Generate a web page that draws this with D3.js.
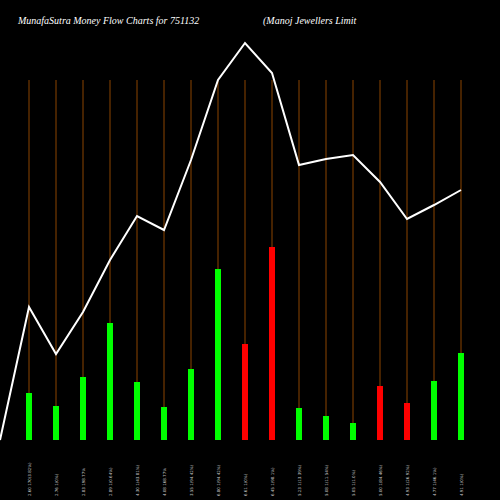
<!DOCTYPE html>
<html><head><meta charset="utf-8">
<script src="https://cdn.jsdelivr.net/npm/d3@7"></script>
<style>body{margin:0;background:#000}</style>
</head><body>
<script>
var labels = ["2.60 170(3.82%)","2.76 1(0%)","2.83 198.77%","2.89 1(0.64%)","4.30 1(43.81%)","4.08 168.77%","3.55 1(94.42%)","6.80 1(94.42%)","6.61 1(0%)","6.45 1(98.1%)","5.23 1(13.39%)","5.08 1(11.54%)","5.05 1(1.0%)","5.00 1(84.46%)","4.93 1(26.92%)","4.77 1(46.1%)","4.91 1(0%)"];
var volume = [47, 34, 63, 117, 58, 33, 71, 171, 96, 193, 32, 24, 17, 54, 37, 59, 87];
var isUp = [1,1,1,1,1,1,1,1,0,0,1,1,1,0,0,1,1];
var price = [133, 86, 128, 180, 224, 210, 280, 360, 397, 367, 275, 281, 285, 258, 221, 235, 250];

var svg = d3.select("body").append("svg").attr("width",500).attr("height",500).style("background","#000");
var x = d3.scalePoint().domain(d3.range(labels.length)).range([29,461]);
var y = d3.scaleLinear().domain([0,400]).range([440,40]);

svg.append("text").attr("x",18).attr("y",24).attr("fill","#fff")
  .style("font","italic 10px 'Liberation Serif', serif").text("MunafaSutra  Money Flow  Charts for 751132");
svg.append("text").attr("x",263).attr("y",24).attr("fill","#fff")
  .style("font","italic 10px 'Liberation Serif', serif").text("(Manoj Jewellers Limit");

svg.selectAll("line.grid").data(labels).enter().append("line").attr("class","grid")
  .attr("x1",function(d,i){return x(i);}).attr("x2",function(d,i){return x(i);})
  .attr("y1",80).attr("y2",440).attr("stroke","#8b4500").attr("stroke-width",1);

svg.selectAll("rect").data(volume).enter().append("rect")
  .attr("x",function(d,i){return x(i)-3;}).attr("width",6)
  .attr("y",function(d){return y(d);}).attr("height",function(d){return 440-y(d);})
  .attr("fill",function(d,i){return isUp[i]?"#00ff00":"#ff0000";});

var pts = [[0,0]].concat(price.map(function(p,i){return [x(i),p];}));
svg.append("path").datum(pts).attr("fill","none").attr("stroke","#fff").attr("stroke-width",2)
  .attr("d",d3.line().x(function(d){return d[0];}).y(function(d){return y(d[1]);}));

svg.selectAll("text.lab").data(labels).enter().append("text").attr("class","lab")
  .attr("transform",function(d,i){return "translate("+(x(i)+2)+",496) rotate(-90)";})
  .attr("fill","#ccc").style("font","4px 'DejaVu Sans', sans-serif").text(function(d){return d;});
</script>
</body></html>
